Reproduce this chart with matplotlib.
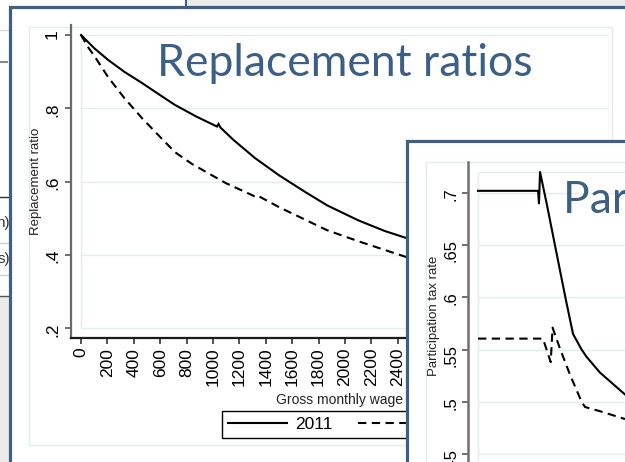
import matplotlib
matplotlib.use("Agg")
import matplotlib.pyplot as plt
from matplotlib.patches import Rectangle
from matplotlib.lines import Line2D

plt.rcParams['font.family'] = ['Liberation Sans', 'DejaVu Sans']

W, H = 625, 462

# replacement ratios (left chart)
wage_2011 = [0, 100, 205, 330, 462, 590, 712, 870, 1030, 1042, 1055, 1150, 1318,
             1500, 1700, 1864, 2100, 2300, 2470, 2600]
rr_2011 = [1.0, 0.964, 0.932, 0.899, 0.869, 0.838, 0.809, 0.778, 0.750, 0.757, 0.748,
           0.715, 0.664, 0.617, 0.571, 0.535, 0.494, 0.465, 0.445, 0.430]
wage_2012 = [0, 53, 106, 205, 330, 462, 590, 712, 840, 962, 1100, 1295, 1320, 1340,
             1500, 1864, 2100, 2470, 2600]
rr_2012 = [1.0, 0.967, 0.940, 0.885, 0.827, 0.773, 0.725, 0.680, 0.648, 0.623, 0.595,
           0.563, 0.558, 0.561, 0.530, 0.467, 0.437, 0.393, 0.380]
rr_xticks = list(range(0, 4200, 200))
rr_yticks = [0.2, 0.4, 0.6, 0.8, 1.0]
rr_ylabels = [".2", ".4", ".6", ".8", "1"]

# participation tax rates (right chart)
ptr_wage_2011 = [0, 455, 462, 470, 520, 583, 662, 720, 785, 823, 924, 1114]
ptr_2011 = [0.702, 0.702, 0.690, 0.720, 0.690, 0.650, 0.600, 0.565, 0.550, 0.543, 0.528, 0.507]
ptr_wage_2012 = [0, 492, 551, 565, 621, 697, 785, 811, 924, 1114]
ptr_2012 = [0.5605, 0.5605, 0.538, 0.571, 0.551, 0.526, 0.500, 0.495, 0.491, 0.4835]
ptr_yticks = [0.45, 0.5, 0.55, 0.6, 0.65, 0.7]
ptr_ylabels = [".45", ".5", ".55", ".6", ".65", ".7"]

legend_labels = ["2011", "2012"]
title_1 = "Replacement ratios"
title_2 = "Participation tax rates"

blue = "#405f82"
grid = "#e4eded"
title_col = "#3c5f85"


def fx(x):
    return x / W


def fy(y):
    return 1 - y / H


def px(x0, y0, x1, y1):
    return [x0 / W, 1 - y1 / H, (x1 - x0) / W, (y1 - y0) / H]


def rect(x0, y0, x1, y1, **kw):
    r = Rectangle((fx(x0), fy(y1)), (x1 - x0) / W, (y1 - y0) / H,
                  transform=fig.transFigure, **kw)
    fig.add_artist(r)


def hline(y, x0, x1, **kw):
    fig.add_artist(Line2D([fx(x0), fx(x1)], [fy(y), fy(y)], transform=fig.transFigure, **kw))


fig = plt.figure(figsize=(6.25, 4.62), dpi=100)

# slides in the background
rect(186, -5, 640, 6, facecolor="#ebebeb", edgecolor="none", zorder=0)
fig.add_artist(Line2D([fx(186), fx(186)], [fy(0), fy(7)], color=blue, lw=1.5,
                      transform=fig.transFigure, zorder=0.2))
hline(30, 0, 10, color="#d8d8d8", lw=1, zorder=0.2)
hline(62, 0, 7, color="#8a8a8a", lw=1.5, zorder=0.2)
hline(197, 0, 10, color="#333333", lw=1, zorder=0.2)
hline(243, 0, 10, color="#d0d0d0", lw=1, zorder=0.2)
hline(275, 0, 10, color="#d0d0d0", lw=1, zorder=0.2)
rect(-5, 296, 10, 470, facecolor="#ebebeb", edgecolor="#555555", lw=1, zorder=0.2)
fig.text(fx(10), fy(223), "n)", ha="right", va="center", fontsize=11, color="#333333", zorder=0.3)
fig.text(fx(10), fy(259), "s)", ha="right", va="center", fontsize=11, color="#333333", zorder=0.3)

# main slide panel
rect(10, 7, 720, 520, facecolor="white", edgecolor=blue, lw=2.3, zorder=1)
rect(29, 27, 612, 445, facecolor="none", edgecolor=grid, lw=1, zorder=1.5)

ax1 = fig.add_axes(px(71, 25, 609, 338), zorder=2)
ax1.patch.set_visible(False)
ax1.set_xlim(-76, 4000)
ax1.set_ylim(0.1727, 1.0273)
ax1.hlines(rr_yticks, 0, 4000, color=grid, lw=1, zorder=0.5)
ax1.vlines([0, 4000], min(rr_yticks), max(rr_2011), color=grid, lw=1, zorder=0.5)
ax1.plot(wage_2011, rr_2011, color="black", lw=1.5, solid_joinstyle="miter")
ax1.plot(wage_2012, rr_2012, color="black", lw=1.5, dashes=(4, 2.6))
for s in ["top", "right"]:
    ax1.spines[s].set_visible(False)
ax1.spines["left"].set_color("#6b6b6b")
ax1.spines["left"].set_linewidth(1.6)
ax1.spines["bottom"].set_color("#1a1a1a")
ax1.spines["bottom"].set_linewidth(1.6)
ax1.set_xticks(rr_xticks)
ax1.set_xticklabels([str(v) for v in rr_xticks])
ax1.set_yticks(rr_yticks)
ax1.set_yticklabels(rr_ylabels)
ax1.tick_params(axis="x", length=4, width=1.2, color="#333333", labelsize=12.5, pad=3,
                labelrotation=90)
ax1.tick_params(axis="y", length=4, width=1.2, color="#555555", labelsize=12.5, pad=4,
                labelrotation=90)
ax1.set_ylabel("Replacement ratio", fontsize=9.5, labelpad=2, color="#222222")
ax1.set_xlabel("Gross monthly wage", fontsize=10, labelpad=5, color="#222222")
h = [Line2D([], [], color="black", lw=1.5),
     Line2D([], [], color="black", lw=1.5, dashes=(4, 2.6))]
leg = ax1.legend(h, legend_labels, ncol=2, loc="upper left",
                 bbox_to_anchor=(fx(222), fy(411)), bbox_transform=fig.transFigure,
                 fancybox=False, edgecolor="black", framealpha=1, fontsize=12.5,
                 handlelength=3.4, handletextpad=0.45, columnspacing=1.5,
                 borderpad=0.35, borderaxespad=0)
leg.get_frame().set_linewidth(1)

fig.text(fx(157), fy(76), title_1, fontfamily="Lato", fontsize=32, color=title_col,
         ha="left", va="baseline", zorder=3)

# second slide panel on top
rect(407, 141, 720, 520, facecolor="white", edgecolor=blue, lw=2.3, zorder=4)
rect(426, 162, 720, 520, facecolor="none", edgecolor=grid, lw=1, zorder=4.5)

ax2 = fig.add_axes(px(468, 162, 625, 470), zorder=5)
ax2.patch.set_visible(False)
ax2.set_xlim(-76, 1114)
ax2.set_ylim(0.4347, 0.7296)
ax2.hlines(ptr_yticks + [max(ptr_2011)], 0, 1114, color=grid, lw=1, zorder=0.5)
ax2.vlines([0], 0.40, max(ptr_2011), color=grid, lw=1, zorder=0.5)
ax2.plot(ptr_wage_2011, ptr_2011, color="black", lw=1.5)
ax2.plot(ptr_wage_2012, ptr_2012, color="black", lw=1.5, dashes=(4, 2.6))
for s in ["top", "right", "bottom"]:
    ax2.spines[s].set_visible(False)
ax2.spines["left"].set_color("#707070")
ax2.spines["left"].set_linewidth(1.8)
ax2.set_xticks([])
ax2.set_yticks(ptr_yticks)
ax2.set_yticklabels(ptr_ylabels)
ax2.tick_params(axis="y", length=4, width=1.2, color="#555555", labelsize=12, pad=3,
                labelrotation=90)
ax2.set_ylabel("Participation tax rate", fontsize=9.5, labelpad=2.5, color="#222222")

fig.text(fx(563), fy(213), title_2, fontfamily="Lato", fontsize=32, color=title_col,
         ha="left", va="baseline", zorder=6)

fig.savefig("out.png", dpi=100)
